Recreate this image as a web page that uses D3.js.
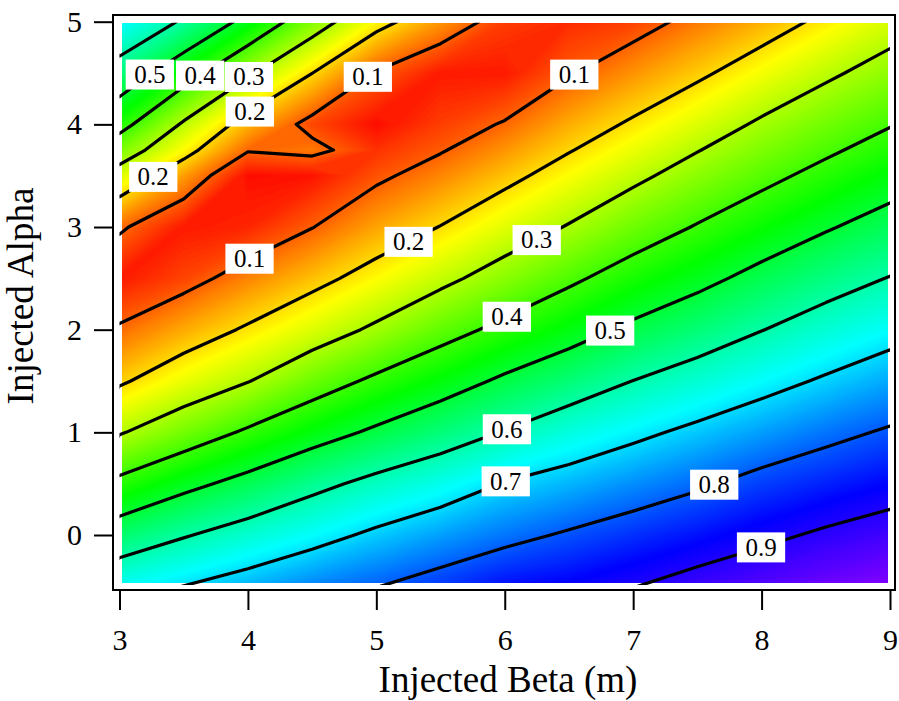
<!DOCTYPE html>
<html><head><meta charset="utf-8">
<script src="https://cdn.jsdelivr.net/npm/d3@7"></script>
<style>
html,body{margin:0;padding:0;background:#fff;}
svg{display:block;}
text{font-family:"Liberation Serif","Times New Roman",Times,serif;fill:#000;}
</style></head><body>
<svg id="chart" width="899" height="701"></svg>
<script>
// ---- data ----
const betaValues  = [3, 3.5, 4, 4.5, 5, 5.5, 6, 6.5, 7, 7.5, 8, 8.5, 9];
const alphaValues = [-0.5, 0, 0.5, 1, 1.5, 2, 2.5, 3, 3.5, 3.75, 4, 4.5, 5];
// one row per alpha value (bottom to top), one entry per beta value
const zRows = [
  [0.668, 0.701, 0.734, 0.770, 0.798, 0.830, 0.862, 0.876, 0.898, 0.926, 0.948, 0.973, 0.994], // -0.5
  [0.546, 0.594, 0.635, 0.673, 0.714, 0.748, 0.780, 0.808, 0.834, 0.858, 0.885, 0.910, 0.931], // 0
  [0.420, 0.478, 0.526, 0.578, 0.622, 0.659, 0.704, 0.731, 0.761, 0.790, 0.823, 0.846, 0.869], // 0.5
  [0.294, 0.353, 0.411, 0.465, 0.513, 0.558, 0.604, 0.648, 0.683, 0.717, 0.749, 0.781, 0.808], // 1
  [0.190, 0.247, 0.297, 0.360, 0.415, 0.463, 0.513, 0.556, 0.601, 0.637, 0.674, 0.709, 0.742], // 1.5
  [0.108, 0.160, 0.209, 0.260, 0.313, 0.370, 0.420, 0.467, 0.516, 0.556, 0.598, 0.638, 0.673], // 2
  [0.040, 0.075, 0.129, 0.178, 0.229, 0.281, 0.334, 0.386, 0.436, 0.478, 0.524, 0.566, 0.603], // 2.5
  [0.110, 0.040, 0.050, 0.098, 0.155, 0.202, 0.255, 0.305, 0.358, 0.405, 0.450, 0.493, 0.532], // 3
  [0.263, 0.150, 0.030, 0.035, 0.087, 0.130, 0.180, 0.232, 0.283, 0.333, 0.379, 0.423, 0.464], // 3.5
  [0.348, 0.228, 0.105, 0.120, 0.060, 0.095, 0.142, 0.196, 0.246, 0.297, 0.345, 0.388, 0.430], // 3.75
  [0.429, 0.290, 0.167, 0.078, 0.030, 0.070, 0.105, 0.162, 0.210, 0.260, 0.311, 0.355, 0.396], // 4
  [0.561, 0.440, 0.313, 0.201, 0.095, 0.040, 0.040, 0.094, 0.141, 0.187, 0.238, 0.287, 0.331], // 4.5
  [0.680, 0.590, 0.474, 0.343, 0.226, 0.145, 0.070, 0.055, 0.073, 0.120, 0.165, 0.216, 0.266]  // 5
];
const contourLevels = [0.1, 0.2, 0.3, 0.4, 0.5, 0.6, 0.7, 0.8, 0.9];
const xTicks = [3, 4, 5, 6, 7, 8, 9];
const yTicks = [0, 1, 2, 3, 4, 5];
const xTitle = "Injected Beta (m)";
const yTitle = "Injected Alpha";
// approximate label anchors (level, beta, alpha); snapped onto the drawn contour
const labelLevels = [0.5, 0.4, 0.3, 0.2, 0.2, 0.1, 0.1, 0.1, 0.2, 0.3, 0.4, 0.5, 0.6, 0.7, 0.8, 0.9];
const labelBeta   = [3.245, 3.627, 4.012, 4.0, 3.269, 4.93, 6.548, 4.024, 5.255, 6.252, 6.026, 6.82, 6.018, 6.018, 7.63, 7.997];
const labelAlpha  = [4.47, 4.477, 4.453, 4.155, 3.475, 4.47, 4.47, 2.662, 2.846, 2.865, 2.1, 1.994, 1.026, 0.474, 0.494, -0.126];

// ---- layout ----
const svg = d3.select("#chart");
const x = d3.scaleLinear().domain([3, 9]).range([119.5, 890]);
const y = d3.scaleLinear().domain([0, 5]).range([535, 21.7]);
const frame = {x0: 113, y0: 15, x1: 895, y1: 590};

const nx = betaValues.length, ny = alphaValues.length;
const ix = d3.scaleLinear().domain(d3.range(nx)).range(betaValues);
const iy = d3.scaleLinear().domain(d3.range(ny)).range(alphaValues);
const values = zRows.flat();
const toPx = (cx, cy) => [x(ix(cx - 0.5)), y(iy(cy - 0.5))];
const proj = d3.geoTransform({point(px, py) { const p = toPx(px, py); this.stream.point(p[0], p[1]); }});
const path = d3.geoPath(proj);

const color = d3.scaleLinear()
  .domain([0.02, 0.23, 0.455, 0.675, 0.87, 1.0])
  .range(["#ff0000", "#ffff00", "#00ff00", "#00ffff", "#0000ff", "#8c00ff"])
  .clamp(true);

const defs = svg.append("defs");
defs.append("clipPath").attr("id", "clipFill").append("rect")
  .attr("x", x(3.02)).attr("y", y(4.984))
  .attr("width", x(8.98) - x(3.02)).attr("height", y(-0.468) - y(4.984));
defs.append("clipPath").attr("id", "clipLine").append("rect")
  .attr("x", x(3)).attr("y", y(4.99))
  .attr("width", x(9) - x(3)).attr("height", y(-0.488) - y(4.99));

const gen = d3.contours().size([nx, ny]);

// filled gradient as many thin bands
const step = 0.004;
const bands = gen.thresholds(d3.range(0, 1.0, step))(values);
svg.append("g").attr("clip-path", "url(#clipFill)")
  .selectAll("path").data(bands).join("path")
  .attr("d", path)
  .attr("fill", d => color(d.value + step / 2));

// contour lines
const lineContours = gen.thresholds(contourLevels)(values);
svg.append("g").attr("clip-path", "url(#clipLine)")
  .selectAll("path").data(lineContours).join("path")
  .attr("d", path)
  .attr("fill", "none")
  .attr("stroke", "#000")
  .attr("stroke-width", 3.2)
  .attr("stroke-linejoin", "round");

// frame
svg.append("rect")
  .attr("x", frame.x0).attr("y", frame.y0)
  .attr("width", frame.x1 - frame.x0).attr("height", frame.y1 - frame.y0)
  .attr("fill", "none").attr("stroke", "#000").attr("stroke-width", 2);

// axes
const yAxis = svg.append("g").attr("transform", `translate(${frame.x0},0)`)
  .call(d3.axisLeft(y).tickValues(yTicks).tickFormat(d3.format("d")).tickSize(19).tickPadding(12));
const xAxis = svg.append("g").attr("transform", `translate(0,${frame.y1})`)
  .call(d3.axisBottom(x).tickValues(xTicks).tickFormat(d3.format("d")).tickSize(20).tickPadding(18.7));
[yAxis, xAxis].forEach(a => {
  a.attr("font-family", null);
  a.select(".domain").remove();
  a.selectAll(".tick line").attr("stroke", "#000").attr("stroke-width", 2);
  a.selectAll(".tick text").attr("font-family", '"Liberation Serif","Times New Roman",serif')
    .attr("font-size", 30).attr("fill", "#000");
});

// titles
svg.append("text").attr("x", 508).attr("y", 692).attr("text-anchor", "middle")
  .attr("font-size", 37).text(xTitle);
svg.append("text").attr("transform", "translate(33,296) rotate(-90)")
  .attr("text-anchor", "middle").attr("font-size", 37).text(yTitle);

// contour labels
function onEdge(p) { return p[0] <= 0 || p[0] >= nx || p[1] <= 0 || p[1] >= ny; }
function snap(level, hx, hy) {
  const c = lineContours.find(d => Math.abs(d.value - level) < 1e-9);
  let best = [hx, hy], bd = Infinity;
  c.coordinates.forEach(poly => poly.forEach(ring => {
    for (let k = 0; k < ring.length - 1; k++) {
      const a = ring[k], b = ring[k + 1];
      if (onEdge(a) || onEdge(b)) continue;
      const pa = toPx(a[0], a[1]), pb = toPx(b[0], b[1]);
      const dx = pb[0] - pa[0], dy = pb[1] - pa[1];
      const L = dx * dx + dy * dy;
      let t = L > 0 ? ((hx - pa[0]) * dx + (hy - pa[1]) * dy) / L : 0;
      t = Math.max(0, Math.min(1, t));
      const qx = pa[0] + t * dx, qy = pa[1] + t * dy;
      const dd = (qx - hx) ** 2 + (qy - hy) ** 2;
      if (dd < bd) { bd = dd; best = [qx, qy]; }
    }
  }));
  return best;
}
const fmt = d3.format(".1f");
const labG = svg.append("g");
labelLevels.forEach((lv, i) => {
  const p = snap(lv, x(labelBeta[i]), y(labelAlpha[i]));
  const g = labG.append("g").attr("transform", `translate(${p[0]},${p[1]})`);
  const r = g.append("rect").attr("fill", "#fff");
  const t = g.append("text").attr("text-anchor", "middle").attr("dy", "0.33em")
    .attr("font-size", 25).text(fmt(lv));
  const w = t.node().getComputedTextLength() + 17;
  r.attr("x", -w / 2).attr("y", -15).attr("width", w).attr("height", 30);
});
</script>
</body></html>
